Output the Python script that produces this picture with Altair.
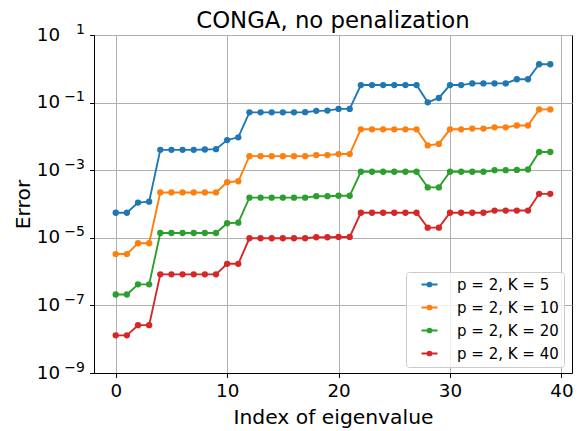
import altair as alt
import pandas as pd

index = list(range(40))

labels = ["p = 2, K = 5", "p = 2, K = 10", "p = 2, K = 20", "p = 2, K = 40"]
colors = ["#1f77b4", "#ff7f0e", "#2ca02c", "#d62728"]

err_k5 = [5.5e-5, 5.5e-5, 1.1e-4, 1.17e-4, 4.0e-3, 4.0e-3, 4.0e-3, 4.0e-3, 4.1e-3, 4.2e-3,
          7.8e-3, 9.4e-3, 0.0515, 0.0515, 0.0515, 0.0515, 0.0515, 0.052, 0.057, 0.058,
          0.065, 0.065, 0.33, 0.33, 0.33, 0.33, 0.33, 0.33, 0.102, 0.137,
          0.33, 0.33, 0.37, 0.37, 0.37, 0.37, 0.49, 0.49, 1.36, 1.36]
err_k10 = [3.3e-6, 3.3e-6, 6.9e-6, 6.9e-6, 2.2e-4, 2.2e-4, 2.2e-4, 2.2e-4, 2.2e-4, 2.2e-4,
           4.4e-4, 4.7e-4, 2.6e-3, 2.6e-3, 2.6e-3, 2.6e-3, 2.6e-3, 2.6e-3, 2.8e-3, 2.8e-3,
           3.0e-3, 3.0e-3, 0.0162, 0.0162, 0.0162, 0.0162, 0.0162, 0.0162, 0.0054, 0.006,
           0.0162, 0.0162, 0.017, 0.017, 0.0186, 0.0186, 0.021, 0.021, 0.063, 0.063]
err_k20 = [2.1e-7, 2.1e-7, 4.2e-7, 4.2e-7, 1.39e-5, 1.39e-5, 1.39e-5, 1.39e-5, 1.39e-5, 1.39e-5,
           2.7e-5, 2.8e-5, 1.54e-4, 1.54e-4, 1.54e-4, 1.54e-4, 1.54e-4, 1.54e-4, 1.7e-4, 1.7e-4,
           1.75e-4, 1.75e-4, 9.0e-4, 9.0e-4, 9.0e-4, 9.0e-4, 9.0e-4, 9.0e-4, 3.1e-4, 3.1e-4,
           9.0e-4, 9.0e-4, 9.0e-4, 9.0e-4, 1.0e-3, 1.0e-3, 1.02e-3, 1.05e-3, 3.46e-3, 3.46e-3]
err_k40 = [1.3e-8, 1.3e-8, 2.6e-8, 2.6e-8, 8.3e-7, 8.3e-7, 8.3e-7, 8.3e-7, 8.3e-7, 8.3e-7,
           1.7e-6, 1.7e-6, 9.7e-6, 9.7e-6, 9.7e-6, 9.7e-6, 9.7e-6, 9.7e-6, 1.04e-5, 1.04e-5,
           1.06e-5, 1.06e-5, 5.5e-5, 5.5e-5, 5.5e-5, 5.5e-5, 5.5e-5, 5.5e-5, 2.0e-5, 2.0e-5,
           5.5e-5, 5.5e-5, 5.5e-5, 5.5e-5, 6.4e-5, 6.4e-5, 6.4e-5, 6.4e-5, 2.0e-4, 2.0e-4]

y_ticks = [1e-9, 1e-7, 1e-5, 1e-3, 1e-1, 10]
x_ticks = [0, 10, 20, 30, 40]

rows = []
for lab, series in zip(labels, [err_k5, err_k10, err_k20, err_k40]):
    for i, v in zip(index, series):
        rows.append({"idx": i, "err": v, "series": lab})
df = pd.DataFrame(rows)

FONT = "DejaVu Sans"

legend_path = ("M-1.6,0L1.6,0M-0.38,0A0.38,0.38,0,1,1,0.38,0"
               "A0.38,0.38,0,1,1,-0.38,0Z")

legend = alt.Legend(
    orient="none", legendX=312, legendY=237, title=None,
    symbolType=legend_path, symbolSize=100,
    symbolStrokeWidth=1.9, symbolOffset=11, symbolOpacity=1,
    labelOffset=20, labelFontSize=15, labelFont=FONT,
    labelColor="black", rowPadding=7, padding=5,
    fillColor="rgba(255,255,255,0.8)", strokeColor="#cccccc",
    cornerRadius=3)

y_scale = alt.Scale(type="log", domain=[1e-9, 10], nice=False)

x_enc = alt.X("idx:Q",
              scale=alt.Scale(domain=[-1.95, 40.95], nice=False, zero=False),
              axis=alt.Axis(values=x_ticks, title="Index of eigenvalue",
                            titleY=50, titleBaseline="alphabetic",
                            labelPadding=5, format="d"))

# mantissa "10" of the log tick labels
y_enc_main = alt.Y("err:Q", scale=y_scale,
                   axis=alt.Axis(values=y_ticks, title="Error", orient="left",
                                 titleX=-65, titleY=169, titleAngle=270,
                                 titleAlign="center", titleBaseline="alphabetic",
                                 labelPadding=53.3, labelOffset=0, labelAlign="left",
                                 labelExpr="datum.value >= 1 ? '\u2002\u2009\u200a10' : '10'"))

# exponent part of the tick labels
y_enc_exp = alt.Y("err:Q", scale=y_scale,
                  axis=alt.Axis(values=y_ticks, title=None, orient="left",
                                grid=False, ticks=False, domain=False,
                                labelPadding=9.5, labelOffset=-6, labelAlign="right",
                                labelFontSize=14,
                                labelExpr="format(round(log(datum.value)/LN10), 'd')"))

lines = alt.Chart(df).mark_line(strokeWidth=1.9).encode(
    x=x_enc,
    y=y_enc_main,
    stroke=alt.Stroke("series:N", scale=alt.Scale(domain=labels, range=colors),
                      sort=labels, legend=legend),
    order="idx:Q",
)

points = alt.Chart(df).mark_circle(size=40, opacity=1).encode(
    x="idx:Q",
    y=y_enc_exp,
    fill=alt.Fill("series:N", scale=alt.Scale(domain=labels, range=colors),
                  sort=labels, legend=legend),
)

chart = alt.layer(lines, points).resolve_axis(y="independent").properties(
    width=478,
    height=338,
    background="white",
    title=alt.TitleParams("CONGA, no penalization", fontSize=22.8, font=FONT,
                          fontWeight="normal", color="black", anchor="middle",
                          frame="group", offset=2, dy=13),
    autosize=alt.AutoSizeParams(type="none"),
    padding={"left": 86, "top": 27, "right": 4, "bottom": 55},
).configure_view(
    stroke="black", strokeWidth=1
).configure_axis(
    labelFont=FONT, labelFontSize=18.3, labelColor="black",
    titleFont=FONT, titleFontSize=20.3, titleColor="black", titleFontWeight="normal",
    grid=True, gridColor="#b0b0b0", gridWidth=1,
    domainColor="black", domainWidth=1, tickColor="black", tickWidth=1, tickSize=4.4,
)

chart.save("out.html", embed_options={"renderer": "svg", "actions": False})
